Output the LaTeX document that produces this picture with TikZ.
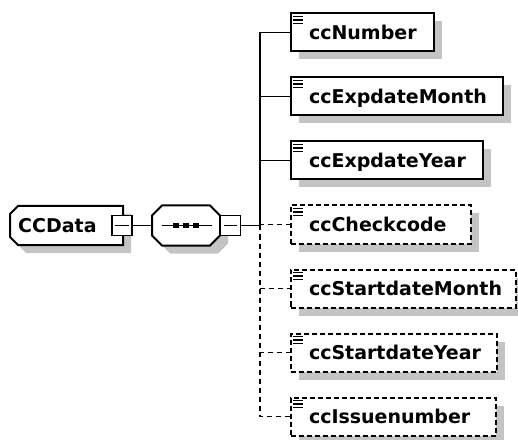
\documentclass[tikz,border=0pt]{standalone}
\usepackage{fontspec}
\setmainfont{DejaVu Sans}
\usetikzlibrary{shadows}
\definecolor{shadowgray}{RGB}{196,196,196}
\begin{document}
\begin{tikzpicture}[x=1bp,y=-1bp,
  tagfont/.style={font=\fontsize{19bp}{22bp}\selectfont\bfseries},
  boxshadow/.style={drop shadow={shadow xshift=8bp, shadow yshift=-8bp, fill=shadowgray, opacity=1}},
  elem/.style={draw=black, line width=2bp, fill=white, inner sep=0pt,
    minimum height=38bp, anchor=west, align=left, tagfont,
    text height=13.9bp, text depth=0bp, boxshadow},
  req/.style={elem},
  opt/.style={elem, dash pattern=on 5bp off 3bp},
  link/.style={line width=1.8bp},
  optlink/.style={link, dash pattern=on 5bp off 4bp},
  toggle/.style={draw, fill=white, line width=1.8bp, minimum size=20bp, inner sep=0pt},
  icon/.style={line width=1.6bp},
]
\useasboundingbox (0,0) rectangle (518,440);

% root element CCData (chamfered on the left)
\path[draw, line width=2bp, fill=white, boxshadow]
  (18,206) -- (123,206) -- (123,245) -- (18,245) -- (10,237) -- (10,214) -- cycle;
\node[tagfont, inner sep=0pt, anchor=west, text height=13.9bp, text depth=0bp]
  (ccdata) at (18,225.5) {CCData};
\node[toggle] (ccdatatoggle) at (122,225.5) {};
\draw[line width=1.6bp] ([xshift=4bp]ccdatatoggle.west) -- ([xshift=-4bp]ccdatatoggle.east);

% sequence compositor
\path[draw, line width=2bp, fill=white, boxshadow]
  (162,205.5) -- (210,205.5) -- (220,215.5) -- (220,235.5) -- (210,245.5)
  -- (162,245.5) -- (152,235.5) -- (152,215.5) -- cycle;
\node[minimum width=68bp, minimum height=40bp, inner sep=0pt] (seq) at (186,225.5) {};
\draw[line width=1.6bp] ([xshift=-24bp]seq.center) -- ([xshift=26bp]seq.center);
\fill (173,223) rectangle (179,228);
\fill (183,223) rectangle (189,228);
\fill (193,223) rectangle (199,228);
\node[toggle] (seqtoggle) at (230.5,225.5) {};
\draw[line width=1.6bp] ([xshift=4bp]seqtoggle.west) -- ([xshift=-4bp]seqtoggle.east);

% child elements
\node[req, text width=143bp] (n1) at (290,32.5)  {\hspace*{18bp}ccNumber};
\node[req, text width=212bp] (n2) at (290,96.5)  {\hspace*{18bp}ccExpdateMonth};
\node[req, text width=192bp] (n3) at (290,160.5) {\hspace*{18bp}ccExpdateYear};
\node[opt, text width=180bp] (n4) at (290,224.5) {\hspace*{18bp}ccCheckcode};
\node[opt, text width=225bp] (n5) at (290,288.5) {\hspace*{18bp}ccStartdateMonth};
\node[opt, text width=206bp] (n6) at (290,352.5) {\hspace*{18bp}ccStartdateYear};
\node[opt, text width=205bp] (n7) at (290,416.5) {\hspace*{18bp}ccIssuenumber};

% simple-content icons
\foreach \n in {n1,n2,n3,n4,n5,n6,n7}{
  \foreach \dy in {4,7.5,11}
    \draw[icon] ([shift={(3,\dy)}]\n.north west) -- ++(10,0);
}

% connectors
\coordinate (trunk) at (260,225.5);
\draw[link] (ccdatatoggle.east) -- (seq.west);
\draw[link] (seqtoggle.east) -- (trunk);
\foreach \n in {n1,n2,n3}
  \draw[link] (trunk) |- (\n.west);
\foreach \n in {n4,n5,n6,n7}
  \draw[optlink] (trunk) |- (\n.west);
\end{tikzpicture}
\end{document}
